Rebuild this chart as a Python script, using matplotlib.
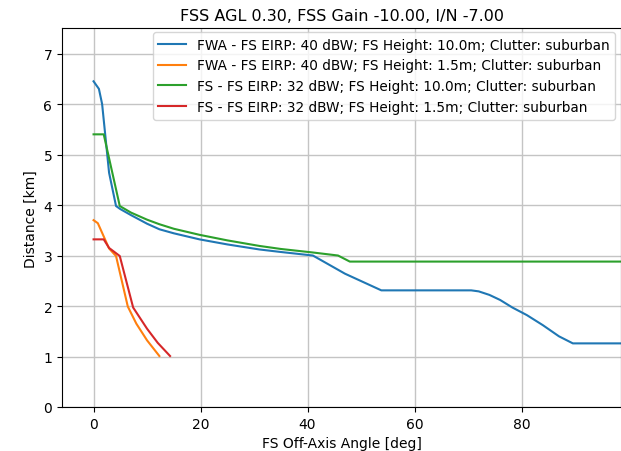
import matplotlib
matplotlib.use("Agg")
import matplotlib.pyplot as plt

# FWA - FS, 10.0m
fwa_10_x = [0, 1, 1.6, 2.9, 4.2, 5, 7, 10, 12.3, 15, 19.8, 25, 31, 35, 41, 47, 53.8, 70.6, 72, 74, 76, 78.3, 81, 84, 87, 89.6, 98.6]
fwa_10_y = [6.45, 6.3, 6.0, 4.64, 3.98, 3.92, 3.8, 3.63, 3.52, 3.44, 3.32, 3.22, 3.12, 3.07, 3.0, 2.64, 2.31, 2.31, 2.29, 2.22, 2.12, 1.97, 1.82, 1.62, 1.4, 1.26, 1.26]

# FWA - FS, 1.5m
fwa_15_x = [0, 0.8, 2.9, 4.2, 6.4, 8, 10, 12.3]
fwa_15_y = [3.70, 3.64, 3.14, 2.99, 1.99, 1.65, 1.32, 1.01]

# FS - FS, 10.0m
fs_10_x = [0, 1.9, 4.9, 7, 10, 12.3, 15, 19.8, 25, 31, 35, 41, 45.7, 47.9, 98.6]
fs_10_y = [5.4, 5.4, 3.98, 3.85, 3.71, 3.62, 3.53, 3.41, 3.3, 3.19, 3.13, 3.06, 3.0, 2.88, 2.88]

# FS - FS, 1.5m
fs_15_x = [0, 1.9, 2.9, 4.9, 7.4, 10, 12, 14.3]
fs_15_y = [3.32, 3.32, 3.15, 2.99, 1.97, 1.55, 1.27, 1.01]

labels = [
    "FWA - FS EIRP: 40 dBW; FS Height: 10.0m; Clutter: suburban",
    "FWA - FS EIRP: 40 dBW; FS Height: 1.5m; Clutter: suburban",
    "FS - FS EIRP: 32 dBW; FS Height: 10.0m; Clutter: suburban",
    "FS - FS EIRP: 32 dBW; FS Height: 1.5m; Clutter: suburban",
]

fig = plt.figure(figsize=(6.21, 4.52), dpi=100)
ax = fig.add_axes([62 / 621, 44 / 452, 559 / 621, 378.7 / 452])

ax.plot(fwa_10_x, fwa_10_y, label=labels[0])
ax.plot(fwa_15_x, fwa_15_y, label=labels[1])
ax.plot(fs_10_x, fs_10_y, label=labels[2])
ax.plot(fs_15_x, fs_15_y, label=labels[3])

ax.set_xlim(-5.9, 98.6)
ax.set_ylim(0, 7.5)
ax.set_xticks([0, 20, 40, 60, 80])
ax.grid(True, color="#c4c4c4", linewidth=1.0)
ax.set_title("FSS AGL 0.30, FSS Gain -10.00, I/N -7.00", fontsize=11.5)
ax.set_xlabel("FS Off-Axis Angle [deg]")
ax.set_ylabel("Distance [km]")
ax.legend(loc="upper right", bbox_to_anchor=(0.989, 0.990), borderaxespad=0,
          fontsize=9.85)

fig.savefig("out.png", dpi=100)
